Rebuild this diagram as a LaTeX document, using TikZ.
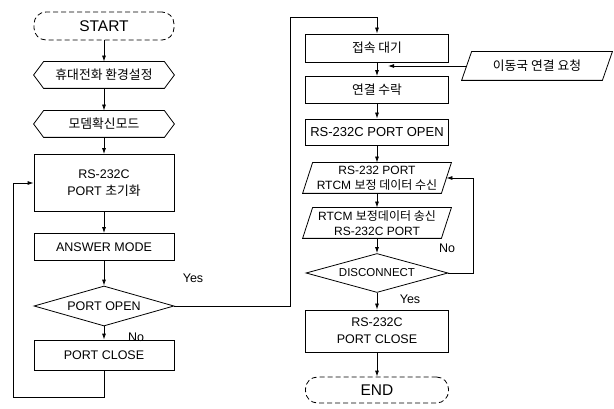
\documentclass[tikz,border=0pt]{standalone}
\usepackage{fontspec}
\setmainfont{Liberation Sans}
\newfontfamily\krfont{Noto Sans CJK KR}
\newcommand\kr[1]{{\krfont\fontsize{12.8}{17}\selectfont #1}}
\usetikzlibrary{shapes.geometric,arrows.meta}
\newcommand\hexdraw[1]{\draw (#1.north west) -- ([xshift=-10pt]#1.west) -- (#1.south west) -- (#1.south east) -- ([xshift=10pt]#1.east) -- (#1.north east) -- cycle;}
\newcommand\paradraw[1]{\draw ([xshift=-5pt]#1.south west) -- ([xshift=5pt]#1.north west) -- ([xshift=5pt]#1.north east) -- ([xshift=-5pt]#1.south east) -- cycle;}
\begin{document}
\begin{tikzpicture}[x=1pt,y=-1pt,
  font=\fontsize{12.5}{17}\selectfont,
  line width=0.8pt,
  arr/.style={-{Latex[length=6pt,width=4pt]}},
  box/.style={draw, rectangle, minimum width=140pt, minimum height=#1, inner sep=1pt, align=center},
  hexa/.style={rectangle, minimum width=120pt, minimum height=26pt, inner sep=0pt, align=center},
  para/.style={rectangle, minimum width=138pt, minimum height=30pt, inner sep=0pt, align=center, font=\fontsize{12}{15}\selectfont},
  dia/.style={draw, diamond, aspect=3.5, inner sep=0pt, align=center},
  term/.style={draw, rectangle, rounded corners=12pt, dash pattern=on 5pt off 3pt, minimum width=140pt, minimum height=28pt, inner sep=0pt, font=\fontsize{15.5}{17}\selectfont},
  lbl/.style={font=\fontsize{12.5}{14}\selectfont}]
\useasboundingbox (0,0) rectangle (614,409);
% left column
\node[term] (startn) at (104,26) {START};
\node[hexa] (setup) at (104,75) {\kr{휴대전화 환경설정}};
\hexdraw{setup}
\node[hexa] (modem) at (104,124) {\kr{모뎀확신모드}};
\hexdraw{modem}
\node[box=57pt] (init) at (104,183) {RS-232C\\PORT \kr{초기화}};
\node[box=27pt] (answer) at (104,247) {ANSWER MODE};
\node[dia, minimum width=140pt, minimum height=40pt] (popen) at (104,306) {PORT OPEN};
\node[box=30pt] (pclose) at (104,355) {PORT CLOSE};
% right column
\node[box=28pt, minimum width=143pt] (wait) at (377,48) {\kr{접속 대기}};
\node[box=27pt, minimum width=143pt] (accept) at (377,90) {\kr{연결 수락}};
\node[box=26pt, minimum width=143pt, font=\fontsize{13}{15}\selectfont] (ropen) at (377,132) {RS-232C PORT OPEN};
\node[para] (recv) at (377,178) {RS-232 PORT\\RTCM {\krfont 보정 데이터 수신}};
\paradraw{recv}
\node[para] (send) at (377,223) {RTCM {\krfont 보정데이터 송신}\\RS-232C PORT};
\paradraw{send}
\node[dia, minimum width=142pt, minimum height=39pt, font=\fontsize{11.5}{13}\selectfont] (disc) at (377,273) {DISCONNECT};
\node[box=42pt, minimum width=143pt] (rclose) at (377,331) {RS-232C\\PORT CLOSE};
\node[term, minimum width=143pt, minimum height=26pt] (fin) at (377,390) {END};
\node[para, minimum width=140pt, minimum height=28pt] (req) at (537,66) {\kr{이동국 연결 요청}};
\paradraw{req}
% coordinates
\coordinate (lb) at (13,397);
\coordinate (ya) at (290,17);
\coordinate (rq) at (388,66);
\coordinate (nr) at (473,273);
% connectors
\draw[arr] (startn) -- (setup);
\draw[arr] (setup) -- (modem);
\draw[arr] (modem) -- (init);
\draw[arr] (init) -- (answer);
\draw[arr] (answer) -- (popen);
\draw[arr] (popen) -- (pclose);
\draw[arr] (pclose.south) |- (lb) |- (init.west);
\draw[arr] (popen.east) -| (ya) -| (wait.north);
\draw[arr] (wait) -- (accept);
\draw[arr] (req.west) -- (rq);
\draw[arr] (accept) -- (ropen);
\draw[arr] (ropen) -- (recv);
\draw[arr] (recv) -- (send);
\draw[arr] (send) -- (disc);
\draw[arr] (disc) -- (rclose);
\draw[arr] (rclose) -- (fin);
\draw[arr] (disc.east) -- (nr) |- (recv.east);
% labels
\node[lbl] (yes1) at (193,278) {Yes};
\node[lbl] (no1) at (136,337) {No};
\node[lbl] (no2) at (447,248) {No};
\node[lbl] (yes2) at (410,299) {Yes};
\end{tikzpicture}
\end{document}
